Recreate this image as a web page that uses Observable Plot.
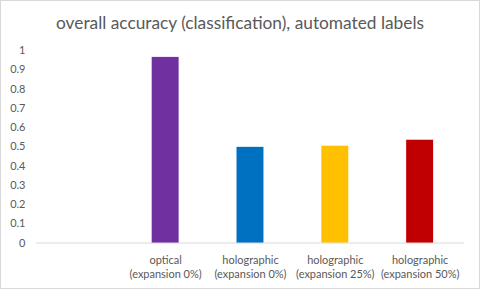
<!DOCTYPE html>
<html>
<head>
<meta charset="utf-8">
<script src="https://cdn.jsdelivr.net/npm/d3@7"></script>
<script src="https://cdn.jsdelivr.net/npm/@observablehq/plot@0.6"></script>
<style>
  html, body { margin: 0; padding: 0; background: #fff; }
  #chart { position: relative; width: 480px; height: 289px; box-sizing: border-box; border: 1px solid #d9d9d9; overflow: hidden; font-family: Lato, "Open Sans", sans-serif; }
  #title { position: absolute; left: 0; top: 11px; width: 478px; text-align: center; font-size: 17.3px; color: #595959; white-space: nowrap; }
  #plot { position: absolute; left: -1px; top: 35px; }
</style>
</head>
<body>
<div id="chart">
  <div id="title">overall accuracy (classification), automated labels</div>
  <div id="plot"></div>
</div>
<script>
const categories = ["", "optical\n(expansion 0%)", "holographic\n(expansion 0%)", "holographic\n(expansion 25%)", "holographic\n(expansion 50%)"];
const values = [null, 0.964, 0.497, 0.503, 0.534];
const colors = ["#ffffff", "#7030A0", "#0070C0", "#FFC000", "#C00000"];
const yTicks = [0, 0.1, 0.2, 0.3, 0.4, 0.5, 0.6, 0.7, 0.8, 0.9, 1];

const data = categories.map((c, i) => ({category: c, value: values[i], color: colors[i]})).filter(d => d.value != null);

const chart = Plot.plot({
  width: 480,
  height: 254,
  marginTop: 14,
  marginBottom: 47,
  marginLeft: 36,
  marginRight: 15,
  style: {fontFamily: "Lato, 'Open Sans', sans-serif", fontSize: "11px", color: "#595959", background: "transparent"},
  x: {domain: categories, paddingInner: 0.686, paddingOuter: 0.343, label: null},
  y: {domain: [0, 1], label: null},
  marks: [
    Plot.axisY({ticks: yTicks, tickSize: 0, tickPadding: 11, tickFormat: d => String(d), fill: "#595959", fontSize: 11, label: null}),
    Plot.axisX({tickSize: 0, tickPadding: 10, fill: "#595959", fontSize: 11, lineHeight: 1.35, label: null}),
    Plot.ruleY([0], {stroke: "#d9d9d9", strokeWidth: 1}),
    Plot.barY(data, {x: "category", y: "value", fill: "color"})
  ]
});
document.getElementById("plot").appendChild(chart);
</script>
</body>
</html>
